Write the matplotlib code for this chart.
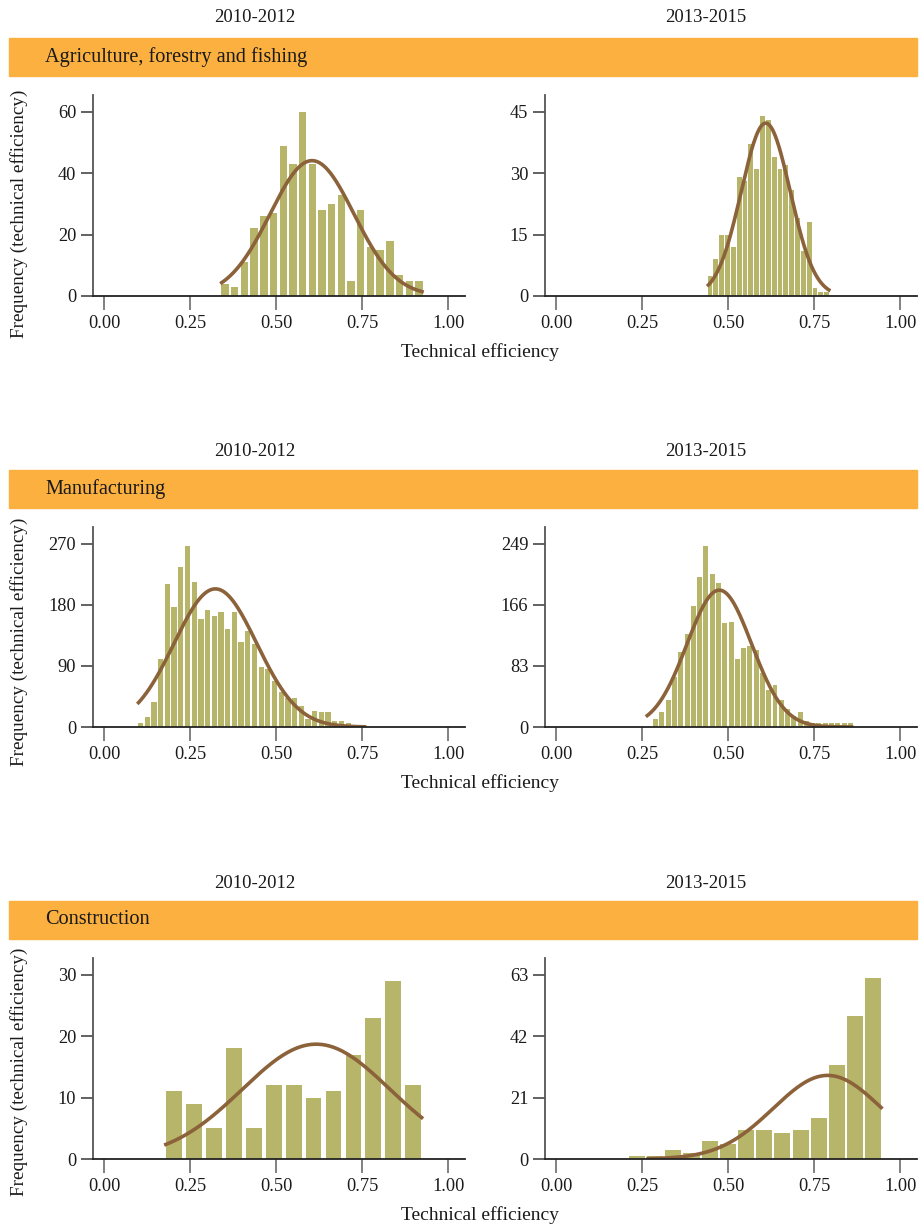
import numpy as np
import matplotlib.pyplot as plt
from matplotlib.patches import Rectangle

plt.rcParams['font.family'] = ['Liberation Serif', 'DejaVu Serif']

# panels: sector rows, period columns
sectors = ["Agriculture, forestry and fishing", "Manufacturing", "Construction"]
periods = ["2010-2012", "2013-2015"]

# histogram counts
agri_1012 = [4, 3, 11, 22, 26, 27, 49, 43, 60, 43, 28, 30, 33, 5, 28, 16, 15, 18, 7, 5, 5]
agri_1315 = [5, 9, 15, 15, 12, 29, 28, 37, 31, 44, 43, 34, 31, 32, 26, 19, 11, 18, 2, 1, 1]
manu_1012 = [6, 15, 37, 100, 210, 176, 235, 266, 213, 159, 173, 164, 170, 145, 170, 125, 141,
             122, 88, 85, 68, 51, 43, 43, 31, 12, 23, 22, 22, 9, 9, 6, 2, 1]
manu_1315 = [11, 20, 37, 68, 102, 126, 165, 204, 246, 208, 195, 141, 143, 92, 107, 110, 104,
             73, 50, 57, 36, 24, 15, 20, 8, 5, 5, 5, 5, 5, 5, 5]
cons_1012 = [11, 9, 5, 18, 5, 12, 12, 10, 11, 17, 23, 29, 12]
cons_1315 = [1, 1, 3, 2, 6, 5, 10, 10, 9, 10, 14, 32, 49, 62]

# first bin edge and bin width
bin_start = [0.337, 0.4386, 0.0959, 0.2797, 0.1744, 0.208]
bin_width = [0.0282, 0.01696, 0.01947, 0.01827, 0.0579, 0.0529]

# fitted normal curve: mean, sd, and x span of the line
fit_mean = [0.604, 0.609, 0.323, 0.474, 0.616, 0.789]
fit_sd = [0.122, 0.071, 0.120, 0.094, 0.215, 0.158]
fit_lo = [0.337, 0.4386, 0.0959, 0.2603, 0.174, 0.262]
fit_hi = [0.929, 0.797, 0.762, 0.864, 0.927, 0.9485]

# y tick marks
y_ticks = [[0, 20, 40, 60], [0, 15, 30, 45], [0, 90, 180, 270],
           [0, 83, 166, 249], [0, 10, 20, 30], [0, 21, 42, 63]]
x_ticks = [0.0, 0.25, 0.5, 0.75, 1.0]
x_labels = ["0.00", "0.25", "0.50", "0.75", "1.00"]

counts_all = [agri_1012, agri_1315, manu_1012, manu_1315, cons_1012, cons_1315]

bar_col = "#B7B56A"
line_col = "#8B623A"
band_col = "#FBB040"
txt_col = "#1a1a1a"

W, H = 920, 1226
fig = plt.figure(figsize=(W / 100, H / 100), dpi=100)

# pixel layout (top of axes, zero line) for each row
rows_px = [(95, 296), (527, 727), (958, 1159)]
cols_px = [(93, 465), (545, 917)]
band_px = [(38, 76), (470, 508), (901, 939)]
title_y = [18, 451, 883]
title_x = [255, 706]
xlab_y = [352, 783, 1215]
ylab_y = [214, 642, 1072]
gap_px = [2.3, 1.0, 1.4, 1.3, 4.2, 2.1]

for r in range(3):
    # orange sector band
    b0, b1 = band_px[r]
    fig.patches.append(Rectangle((9 / W, 1 - b1 / H), (917 - 9) / W, (b1 - b0) / H,
                                 transform=fig.transFigure, color=band_col, zorder=0))
    fig.text(45 / W, 1 - (b0 + b1) / 2 / H, sectors[r], fontsize=14.6, color=txt_col,
             va="center", ha="left")
    for c in range(2):
        fig.text(title_x[c] / W, 1 - title_y[r] / H, periods[c], fontsize=13.4,
                 color=txt_col, ha="center", va="center")
    fig.text(480 / W, 1 - xlab_y[r] / H, "Technical efficiency", fontsize=14,
             color=txt_col, ha="center", va="center")
    fig.text(19 / W, 1 - ylab_y[r] / H, "Frequency (technical efficiency)", fontsize=13.8,
             color=txt_col, ha="center", va="center", rotation=90)

    top, zero = rows_px[r]
    for c in range(2):
        i = r * 2 + c
        x0, x1 = cols_px[c]
        ax = fig.add_axes([x0 / W, 1 - zero / H, (x1 - x0) / W, (zero - top) / H])
        ax.patch.set_alpha(0)

        counts = np.array(counts_all[i])
        w = bin_width[i]
        lefts = bin_start[i] + w * np.arange(len(counts))
        gap = gap_px[i] / 344.0
        ax.bar(lefts + gap / 2, counts, width=w - gap, align="edge",
               color=bar_col, linewidth=0, zorder=2)

        # normal curve scaled to the histogram
        xs = np.linspace(fit_lo[i], fit_hi[i], 300)
        mu, sd = fit_mean[i], fit_sd[i]
        ys = counts.sum() * w * np.exp(-0.5 * ((xs - mu) / sd) ** 2) / (sd * np.sqrt(2 * np.pi))
        ax.plot(xs, ys, color=line_col, lw=2.6, zorder=3, solid_capstyle="butt")

        ax.set_xlim(-0.033, 1.049)
        ax.set_ylim(0, y_ticks[i][-1] * 1.0908)
        ax.set_xticks(x_ticks)
        ax.set_xticklabels(x_labels)
        ax.set_yticks(y_ticks[i])
        for s in ["top", "right"]:
            ax.spines[s].set_visible(False)
        ax.spines["left"].set_color("#555555")
        ax.spines["left"].set_linewidth(1.3)
        ax.spines["bottom"].set_color("#222222")
        ax.spines["bottom"].set_linewidth(1.3)
        ax.spines["bottom"].set_zorder(4)
        ax.tick_params(axis="x", length=10, width=1.3, color="#777777", pad=4,
                       labelsize=13.2, labelcolor=txt_col)
        ax.tick_params(axis="y", length=9, width=1.3, color="#555555", pad=3,
                       labelsize=13.2, labelcolor=txt_col)

fig.savefig("out.png", dpi=100)
